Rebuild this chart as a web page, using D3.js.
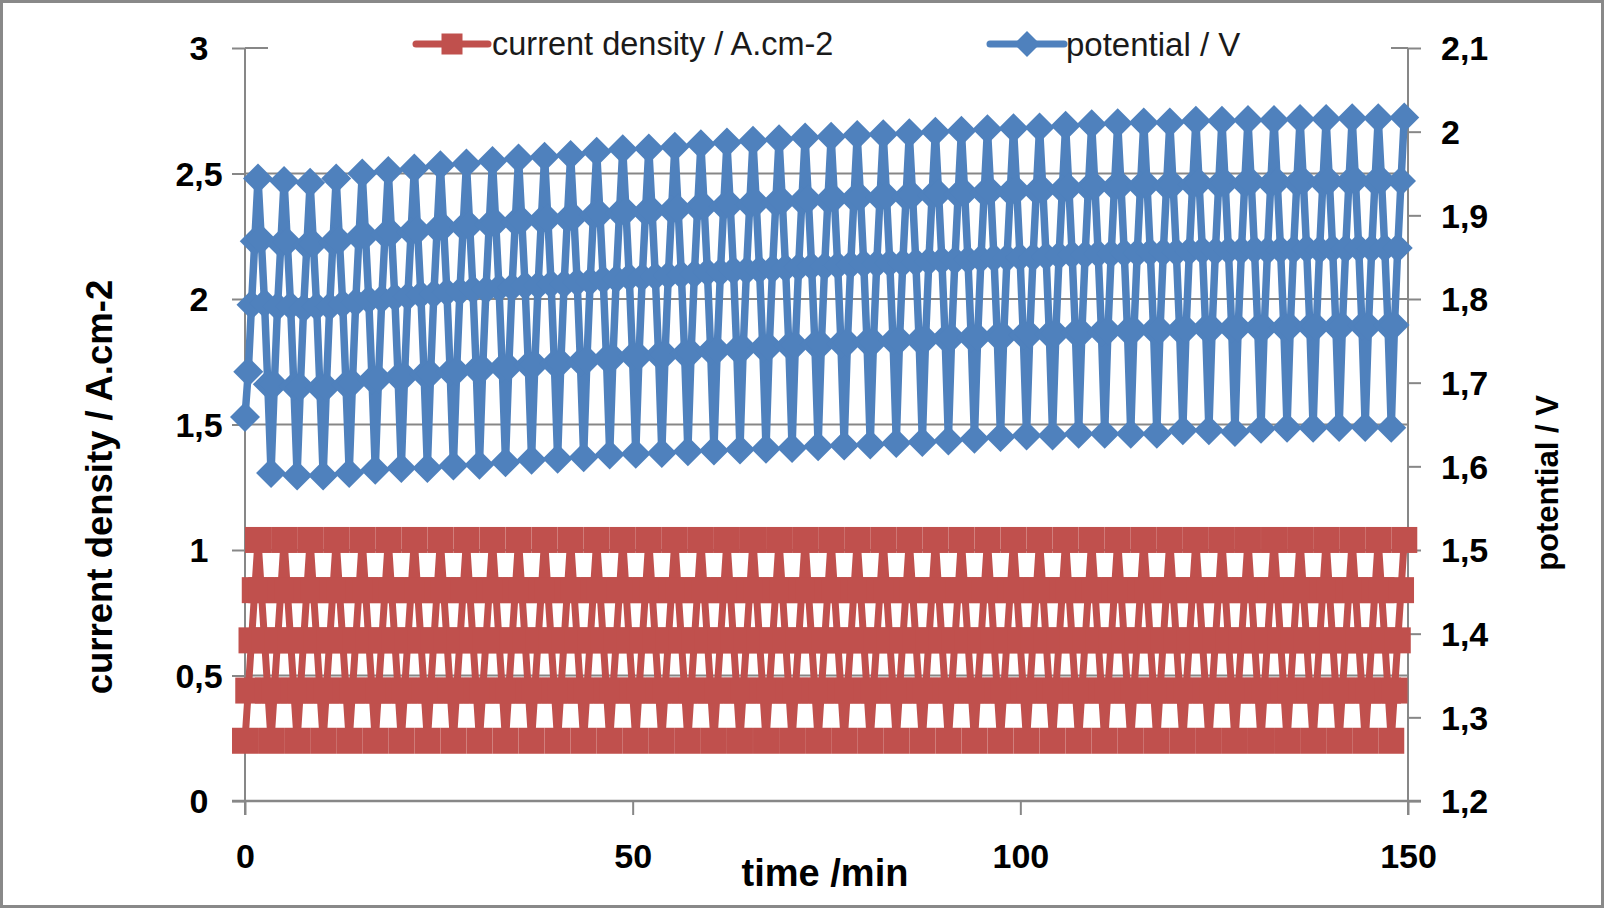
<!DOCTYPE html>
<html><head><meta charset="utf-8">
<script src="https://cdn.jsdelivr.net/npm/d3@7/dist/d3.min.js"></script>
<style>
body{margin:0;background:#fff}
svg{display:block}
text{font-family:"Liberation Sans",Arial,sans-serif}
</style>
</head><body>
<svg id="chart" width="1604" height="908"></svg>
<script>
// ---------- DATA ----------
// current step levels (A.cm-2) and order of the steps inside one cycle
const currentLevels = [0.24, 0.44, 0.64, 0.84, 1.04];
const stepSequence = [0, 1, 2, 3, 4, 3, 2, 1];
const stepMinutes = 0.42;           // logging interval (min)
const cycleCount = 45;              // last cycle ends on the top step

// potential (V) read for every step of every cycle
const potUp025 = [1.659,1.592,1.589,1.589,1.592,1.596,1.598,1.598,1.601,1.602,1.605,1.608,1.609,1.611,1.614,
  1.615,1.616,1.618,1.619,1.620,1.621,1.622,1.624,1.625,1.626,1.628,1.629,1.631,1.633,1.635,
  1.637,1.637,1.639,1.639,1.639,1.639,1.643,1.643,1.641,1.645,1.646,1.646,1.647,1.647,1.646];
const potUp045 = [1.713,1.698,1.695,1.695,1.700,1.705,1.708,1.711,1.714,1.717,1.719,1.722,1.724,1.727,1.730,
  1.732,1.734,1.736,1.739,1.741,1.743,1.745,1.746,1.748,1.749,1.751,1.752,1.754,1.755,1.756,
  1.758,1.759,1.760,1.762,1.763,1.763,1.764,1.765,1.766,1.766,1.767,1.767,1.768,1.768,1.769];
const potUp065 = [1.793,1.791,1.789,1.791,1.796,1.800,1.803,1.806,1.809,1.811,1.814,1.816,1.818,1.821,1.824,
  1.826,1.828,1.830,1.832,1.834,1.836,1.838,1.839,1.841,1.842,1.843,1.845,1.846,1.848,1.849,
  1.850,1.852,1.853,1.854,1.855,1.856,1.857,1.857,1.858,1.858,1.859,1.859,1.860,1.860,1.861];
const potUp085 = [1.869,1.866,1.864,1.868,1.874,1.877,1.880,1.884,1.886,1.889,1.892,1.894,1.896,1.900,1.903,
  1.904,1.906,1.909,1.911,1.913,1.915,1.917,1.918,1.920,1.921,1.922,1.924,1.925,1.927,1.928,
  1.929,1.931,1.933,1.934,1.935,1.935,1.937,1.937,1.938,1.938,1.939,1.939,1.940,1.940,1.941];
const pot105 = [1.944,1.941,1.939,1.944,1.950,1.953,1.956,1.960,1.962,1.965,1.968,1.970,1.972,1.976,1.979,
  1.980,1.982,1.985,1.987,1.989,1.991,1.993,1.994,1.996,1.997,1.998,2.000,2.001,2.003,2.004,
  2.005,2.007,2.009,2.010,2.011,2.011,2.013,2.013,2.014,2.014,2.015,2.015,2.016,2.016,2.017];
const potDown085 = [1.871,1.868,1.866,1.870,1.876,1.879,1.882,1.886,1.888,1.891,1.894,1.896,1.898,1.902,1.905,
  1.906,1.908,1.911,1.913,1.915,1.917,1.919,1.920,1.922,1.923,1.924,1.926,1.927,1.929,1.930,
  1.931,1.933,1.935,1.936,1.937,1.937,1.939,1.939,1.940,1.940,1.941,1.941,1.942,1.942];
const potDown065 = [1.795,1.792,1.791,1.794,1.799,1.802,1.805,1.808,1.811,1.813,1.816,1.818,1.820,1.823,1.826,
  1.827,1.829,1.832,1.834,1.835,1.837,1.839,1.840,1.842,1.843,1.844,1.846,1.847,1.849,1.850,
  1.851,1.853,1.854,1.855,1.856,1.856,1.858,1.858,1.859,1.859,1.860,1.860,1.861,1.861];
const potDown045 = [1.698,1.696,1.694,1.698,1.704,1.707,1.710,1.713,1.716,1.718,1.721,1.723,1.725,1.729,1.732,
  1.733,1.735,1.738,1.740,1.742,1.744,1.746,1.747,1.749,1.750,1.751,1.753,1.754,1.756,1.757,
  1.758,1.760,1.761,1.762,1.763,1.763,1.765,1.765,1.766,1.766,1.767,1.767,1.768,1.768];

const xTicks = [0, 50, 100, 150];
const xTickLabels = ["0", "50", "100", "150"];
const leftTicks = [0, 0.5, 1, 1.5, 2, 2.5, 3];
const leftTickLabels = ["0", "0,5", "1", "1,5", "2", "2,5", "3"];
const rightTicks = [1.2, 1.3, 1.4, 1.5, 1.6, 1.7, 1.8, 1.9, 2.0, 2.1];
const rightTickLabels = ["1,2", "1,3", "1,4", "1,5", "1,6", "1,7", "1,8", "1,9", "2", "2,1"];
const seriesNames = ["current density / A.cm-2", "potential / V"];
const xTitle = "time /min";
const leftTitle = "current density / A.cm-2";
const rightTitle = "potential / V";

// ---------- BUILD SERIES ----------
const potBySlot = [potUp025, potUp045, potUp065, potUp085, pot105, potDown085, potDown065, potDown045];
const rows = [];
for (let k = 0; k < cycleCount; k++) {
  for (let s = 0; s < stepSequence.length; s++) {
    const arr = potBySlot[s];
    if (k >= arr.length) break;
    const idx = k * stepSequence.length + s;
    rows.push({t: idx * stepMinutes, j: currentLevels[stepSequence[s]], v: arr[k]});
  }
}

// ---------- LAYOUT ----------
const svg = d3.select("#chart");
const L = 245, R = 1408, T = 48, B = 801;
const x = d3.scaleLinear().domain([0, 150]).range([L, R]);
const yL = d3.scaleLinear().domain([0, 3]).range([B, T]);
const yR = d3.scaleLinear().domain([1.2, 2.1]).range([B, T]);
const gridCol = "#878787";
const red = "#C0504D", blue = "#4F81BD";

svg.append("rect").attr("x", 0).attr("y", 0).attr("width", 1604).attr("height", 908).attr("fill", "#fff");
svg.append("rect").attr("x", 1.5).attr("y", 1.5).attr("width", 1601).attr("height", 905)
  .attr("fill", "none").attr("stroke", "#898989").attr("stroke-width", 3);

// gridlines
svg.append("g").selectAll("line").data(leftTicks.filter(d => d > 0)).join("line")
  .attr("x1", L).attr("x2", R).attr("y1", d => yL(d)).attr("y2", d => yL(d))
  .attr("stroke", gridCol).attr("stroke-width", 2);

// axes
const gL = svg.append("g").attr("transform", `translate(${L},0)`)
  .call(d3.axisLeft(yL).tickValues(leftTicks).tickFormat((d, i) => leftTickLabels[i]).tickSize(13).tickSizeOuter(0));
const gR = svg.append("g").attr("transform", `translate(${R},0)`)
  .call(d3.axisRight(yR).tickValues(rightTicks).tickFormat((d, i) => rightTickLabels[i]).tickSize(13).tickSizeOuter(0));
const gB = svg.append("g").attr("transform", `translate(0,${B})`)
  .call(d3.axisBottom(x).tickValues(xTicks).tickFormat((d, i) => xTickLabels[i]).tickSize(14).tickSizeOuter(0));

[gL, gR, gB].forEach(g => {
  g.selectAll(".domain").attr("stroke", gridCol).attr("stroke-width", 2);
  g.selectAll(".tick line").attr("stroke", gridCol).attr("stroke-width", 2);
  g.selectAll("text").attr("font-family", "Liberation Sans, Arial, sans-serif")
    .attr("font-size", 34).attr("font-weight", "bold").attr("fill", "#000");
});
gL.selectAll(".tick text").attr("text-anchor", "middle").attr("x", -46).attr("dy", "0.35em");
gR.selectAll(".tick text").attr("text-anchor", "start").attr("x", 33).attr("dy", "0.35em");
gB.selectAll(".tick text").attr("y", 55).attr("dy", "0.35em");
gL.select(".domain").attr("d", `M0,${T}V${B + 14}`);
gR.select(".domain").attr("d", `M0,${T}V${B + 14}`);
gB.select(".domain").attr("d", `M${L - 13},0H${R + 13}`).attr("stroke-width", 2.5);

// ---------- SERIES ----------
const lineJ = d3.line().x(d => x(d.t)).y(d => yL(d.j));
const lineV = d3.line().x(d => x(d.t)).y(d => yR(d.v));

svg.append("path").datum(rows).attr("d", lineJ).attr("fill", "none")
  .attr("stroke", red).attr("stroke-width", 7).attr("stroke-linejoin", "round");
const sq = 26;
svg.append("g").selectAll("rect").data(rows).join("rect")
  .attr("x", d => x(d.t) - sq / 2).attr("y", d => yL(d.j) - sq / 2)
  .attr("width", sq).attr("height", sq).attr("fill", red);

svg.append("path").datum(rows).attr("d", lineV).attr("fill", "none")
  .attr("stroke", blue).attr("stroke-width", 7.5).attr("stroke-linejoin", "round");
const dh = 15;
const diamond = (cx, cy, h) => `M${cx},${cy - h}L${cx + h},${cy}L${cx},${cy + h}L${cx - h},${cy}Z`;
svg.append("g").selectAll("path").data(rows).join("path")
  .attr("d", d => diamond(x(d.t), yR(d.v), dh)).attr("fill", blue);

// ---------- LEGEND ----------
const lg = svg.append("g");
lg.append("rect").attr("x", 268).attr("y", 24).attr("width", 1391 - 268).attr("height", 42).attr("fill", "#fff");
const ly = 44;
lg.append("line").attr("x1", 416).attr("x2", 488).attr("y1", ly).attr("y2", ly)
  .attr("stroke", red).attr("stroke-width", 7).attr("stroke-linecap", "round");
lg.append("rect").attr("x", 452 - 10.5).attr("y", ly - 10.5).attr("width", 21).attr("height", 21).attr("fill", red);
lg.append("text").attr("x", 492).attr("y", ly).attr("dy", "0.35em").attr("font-size", 32.5).attr("fill", "#1a1a1a").text(seriesNames[0]);
lg.append("line").attr("x1", 990).attr("x2", 1064).attr("y1", ly).attr("y2", ly)
  .attr("stroke", blue).attr("stroke-width", 7).attr("stroke-linecap", "round");
lg.append("path").attr("d", diamond(1027, ly, 13)).attr("fill", blue);
lg.append("text").attr("x", 1066).attr("y", ly).attr("dy", "0.35em").attr("font-size", 33).attr("fill", "#1a1a1a").text(seriesNames[1]);

// ---------- AXIS TITLES ----------
svg.append("text").attr("x", 825).attr("y", 886).attr("text-anchor", "middle")
  .attr("font-size", 38).attr("font-weight", "bold").attr("fill", "#000").text(xTitle);
svg.append("text").attr("transform", "translate(99,487) rotate(-90)").attr("text-anchor", "middle").attr("dy", "0.35em")
  .attr("font-size", 36.5).attr("font-weight", "bold").attr("fill", "#000").text(leftTitle);
svg.append("text").attr("transform", "translate(1547,483) rotate(-90)").attr("text-anchor", "middle").attr("dy", "0.35em")
  .attr("font-size", 31).attr("font-weight", "bold").attr("fill", "#000").text(rightTitle);
</script>
</body></html>
